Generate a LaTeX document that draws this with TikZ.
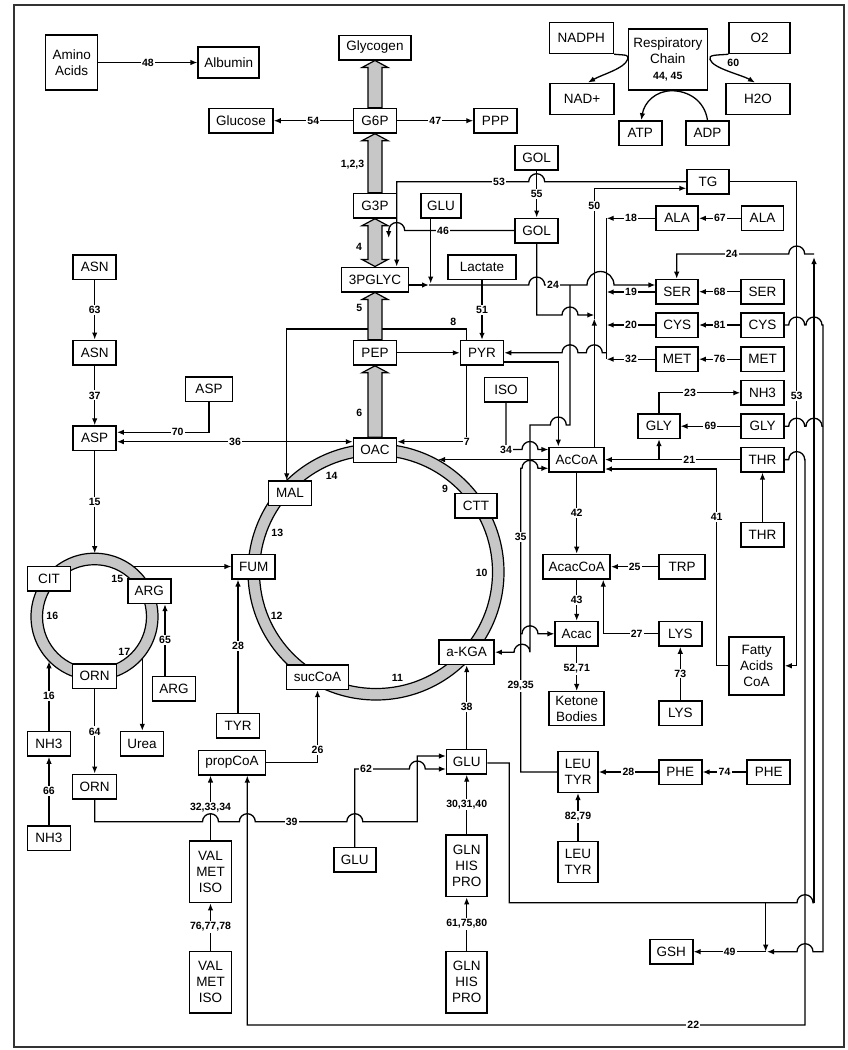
\documentclass[tikz,border=0pt]{standalone}
\usepackage{fontspec}
\setmainfont{Liberation Sans}
\usetikzlibrary{arrows.meta,calc}
\definecolor{ringgray}{gray}{0.78}

\begin{document}
\begin{tikzpicture}[x=1pt,y=-1pt,>={Latex[length=7pt,width=5.5pt]},line width=1.3pt]
\tikzstyle{box}=[draw,fill=white,line width=1.5pt,minimum width=43pt,minimum height=24.5pt,inner sep=2pt,align=center,font=\fontsize{13.5}{16}\selectfont]
\tikzstyle{lbl}=[fill=white,inner sep=1.2pt,font=\fontsize{10.5}{12}\selectfont\bfseries]
\tikzstyle{rlbl}=[inner sep=0pt,font=\fontsize{10.5}{12}\selectfont\bfseries]
\tikzstyle{fat}=[draw,fill=ringgray,line width=1.2pt,line join=miter]
\useasboundingbox (0,0) rectangle (847,1050);
\draw[line width=1.6pt,black!80] (14,5) rectangle (844,1047);

% cycles
\draw[fill=ringgray,even odd rule,line width=1.2pt] (376,572) circle[radius=128pt] (376,572) circle[radius=116.5pt];
\draw[fill=ringgray,even odd rule,line width=1.2pt] (94.5,616.7) circle[radius=63.5pt] (94.5,616.7) circle[radius=52pt];

% top
\node[box,minimum width=52pt,minimum height=55pt] (amino) at (71.7,62.5) {Amino\\Acids};
\node[box,minimum width=61pt,minimum height=31pt] (albumin) at (228.7,62.5) {Albumin};
\node[box,minimum width=64pt] (glucose) at (241,120.7) {Glucose};
\node[box,minimum width=72pt] (glycogen) at (375,47.5) {Glycogen};
\node[box] (G6P) at (375,120.7) {G6P};
\node[box] (PPP) at (495.5,120.7) {PPP};
\node[box,minimum width=64pt,minimum height=31pt] (NADPH) at (581.3,38) {NADPH};
\node[box,minimum width=79pt,minimum height=61pt] (resp) at (667.8,59.5) {Respiratory\\Chain\\{\fontsize{10.5}{12}\selectfont\bfseries 44, 45}};
\node[box,minimum width=61pt,minimum height=31pt] (O2) at (759.7,38) {O2};
\node[box,minimum width=64pt,minimum height=31pt] (NADp) at (582,98.8) {NAD+};
\node[box,minimum width=64pt,minimum height=31pt] (H2O) at (758,98.8) {H2O};
\node[box] (ATP) at (640.3,133.2) {ATP};
\node[box] (ADP) at (707.5,133.2) {ADP};

% glycolysis column
\node[box] (G3P) at (375,205.7) {G3P};
\node[box,minimum width=40pt] (GLUa) at (441,205.5) {GLU};
\node[box] (GOLa) at (536.7,157.5) {GOL};
\node[box] (GOLb) at (536.7,230.5) {GOL};
\node[box,minimum width=42pt] (TG) at (708,181.7) {TG};
\node[box,minimum width=67pt] (pglyc) at (375,279.5) {3PGLYC};
\node[box,minimum width=68pt] (lactate) at (482,267.2) {Lactate};
\node[box] (PEP) at (375,352.8) {PEP};
\node[box] (PYR) at (482,352.8) {PYR};
\node[box] (ISO) at (506,389.5) {ISO};
\node[box] (OAC) at (375,450.3) {OAC};
\node[box] (MAL) at (290,493.3) {MAL};
\node[box,minimum width=42pt] (CTT) at (476,505.7) {CTT};
\node[box,minimum width=55pt] (AcCoA) at (576.7,459.6) {AcCoA};
\node[box] (FUM) at (253.7,566.5) {FUM};
\node[box,minimum width=62pt] (sucCoA) at (317.5,677.2) {sucCoA};
\node[box,minimum width=55pt] (aKGA) at (466.7,652.2) {a-KGA};

% amino acids right
\node[box,minimum width=42pt] (ALAa) at (677.2,218.3) {ALA};
\node[box,minimum width=42pt] (ALAb) at (762.5,218.3) {ALA};
\node[box,minimum width=42pt] (SERa) at (677.2,291.7) {SER};
\node[box] (SERb) at (762.5,291.7) {SER};
\node[box,minimum width=42pt] (CYSa) at (677.2,325) {CYS};
\node[box] (CYSb) at (762.5,325) {CYS};
\node[box,minimum width=42pt] (METa) at (677.2,359.2) {MET};
\node[box] (METb) at (762.5,359.2) {MET};
\node[box] (NH3r) at (762.5,392.8) {NH3};
\node[box,minimum width=42pt] (GLYa) at (658.8,426.2) {GLY};
\node[box] (GLYb) at (762.5,426.2) {GLY};
\node[box] (THRa) at (762.5,459.6) {THR};
\node[box] (THRb) at (762.5,534.7) {THR};
\node[box,minimum width=67pt] (AcacCoA) at (576.7,566.7) {AcacCoA};
\node[box,minimum width=46pt] (TRP) at (682,566.7) {TRP};
\node[box] (Acac) at (576.7,633.8) {Acac};
\node[box] (LYSa) at (680.3,633.8) {LYS};
\node[box] (LYSb) at (680.3,713.3) {LYS};
\node[box,minimum width=55pt,minimum height=34pt] (KB) at (576.7,708.7) {Ketone\\Bodies};
\node[box,minimum width=55pt,minimum height=58pt] (FA) at (756.5,665.8) {Fatty\\Acids\\CoA};
\node[box,minimum width=40pt,minimum height=40.6pt] (LEUa) at (578,772) {LEU\\TYR};
\node[box,minimum width=40pt,minimum height=40.6pt] (LEUb) at (578,862) {LEU\\TYR};
\node[box] (PHEa) at (680.3,772) {PHE};
\node[box] (PHEb) at (768.7,772) {PHE};
\node[box] (GSH) at (671.3,951.7) {GSH};

% left and bottom
\node[box] (ASNa) at (94.7,267.2) {ASN};
\node[box] (ASNb) at (94.7,352.5) {ASN};
\node[box] (ASPa) at (94.7,438.3) {ASP};
\node[box,minimum width=47pt] (ASPb) at (209,389.2) {ASP};
\node[box] (CIT) at (49,578.7) {CIT};
\node[box] (ARGa) at (149.3,591.2) {ARG};
\node[box] (ARGb) at (174,688.8) {ARG};
\node[box,minimum width=44pt] (ORNa) at (94.7,676.3) {ORN};
\node[box,minimum width=44pt] (ORNb) at (94.7,786.5) {ORN};
\node[box] (urea) at (142,743.8) {Urea};
\node[box] (NH3a) at (49,743.8) {NH3};
\node[box] (NH3b) at (49,838.3) {NH3};
\node[box] (TYR) at (238,725.5) {TYR};
\node[box,minimum width=67pt] (propCoA) at (232,762.5) {propCoA};
\node[box,minimum width=42pt,minimum height=61.7pt] (VALa) at (210.5,871.8) {VAL\\MET\\ISO};
\node[box,minimum width=42pt,minimum height=61.7pt] (VALb) at (210.5,982.2) {VAL\\MET\\ISO};
\node[box,minimum width=40pt] (GLUb) at (466.7,761.7) {GLU};
\node[box,minimum width=42pt] (GLUc) at (354.8,859.8) {GLU};
\node[box,minimum width=41pt,minimum height=61.7pt] (GLNa) at (466.7,865.8) {GLN\\HIS\\PRO};
\node[box,minimum width=41pt,minimum height=61.7pt] (GLNb) at (466.7,982.2) {GLN\\HIS\\PRO};

% top connectors
\draw[->] (amino) -- node[lbl] (n48) {48} (albumin);
\draw[->] (G6P) -- node[lbl] (n54) {54} (glucose);
\draw[->] (G6P) -- node[lbl] (n47) {47} (PPP);
\draw[->] (NADPH.south east) .. controls +(12,1) and +(2,-5) .. (resp.west) .. controls +(-3,9) and +(14,-8) .. ([xshift=6pt]NADp.north);
\draw[->] (O2.south west) .. controls +(-12,1) and +(-2,-5) .. ([xshift=2pt]resp.east) .. controls +(3,9) and +(-14,-8) .. ([xshift=-3pt]H2O.north);
\draw[->] (ADP.north) .. controls +(-3,-20) and +(16,0) .. ([xshift=4pt]resp.south) .. controls +(-16,0) and +(3,-18) .. ([xshift=1pt]ATP.north);
\node[rlbl] (n60) at (733.3,63.3) {60};

% glycerol, TG
\draw[->] (TG.west) -- (544.7,181.7) arc[start angle=0,end angle=180,radius=8pt] -- (499,181.7) node[lbl] (n53a) {53} -- (396.7,181.7) -- (396.7,0 |- pglyc.north);
\draw[->] (GOLa) -- node[lbl] (n55) {55} (GOLb);
\draw[->] (GOLb.west) -- (443,230.5) node[lbl] (n46) {46} -- (404.7,230.5) arc[start angle=0,end angle=180,radius=8pt] -- (388.7,238);
\draw[->] (430.7,0 |- GLUa.south) -- (430.7,283.5);
\draw[->] (pglyc.east |- 0,285) -- (429,285);
\draw[->] (429,285) -- (528.7,285) arc[start angle=180,end angle=0,radius=8pt] -- (553,285) node[lbl] (n24a) {24} -- (587,285) arc[start angle=180,end angle=0,radius=13.5pt] -- (SERa.west |- 0,285);
\draw[->] (570,285) -- (570,425) -- (566.3,425) arc[start angle=0,end angle=180,radius=8pt] -- (530,425) -- (530,652.2) arc[start angle=0,end angle=180,radius=8pt] -- (aKGA.east);
\draw[->] (GOLb.south) -- (536.7,315) -- (562,315) arc[start angle=180,end angle=0,radius=8pt] -- (594.3,315);
\draw[->] (594.3,0 |- AcCoA.north) -- (594.3,318.5);
\draw[->] (594.3,318.5) -- (594.3,205.7) node[lbl] (n50) {50} -- (594.3,188.3) -- (TG.west |- 0,188.3);

% amino acids into pyruvate
\draw[->] (ALAb) -- node[lbl] (n67) {67} (ALAa);
\draw[->] (ALAa) -- node[lbl] (n18) {18} (606.7,218.3);
\draw[->] (SERb) -- node[lbl] (n68) {68} (SERa);
\draw[->] (SERa.west |- 0,292) -- node[lbl] (n19) {19} (606.7,292);
\draw[->] (CYSb) -- node[lbl] (n81) {81} (CYSa);
\draw[->] (CYSa) -- node[lbl] (n20) {20} (606.7,325);
\draw[->] (METb) -- node[lbl] (n76) {76} (METa);
\draw[->] (METa) -- node[lbl] (n32) {32} (606.7,359.2);
\draw (606.7,218.3) -- (606.7,359.2);
\draw[->] (606.7,352.8) -- (602.3,352.8) arc[start angle=0,end angle=180,radius=8pt] -- (578,352.8) arc[start angle=0,end angle=180,radius=8pt] -- (PYR.east);

% pyruvate, TCA entries
\draw[->] (PEP) -- (PYR);
\draw[->] (lactate) -- node[lbl] (n51) {51} (PYR);
\draw[->] (PYR.east |- 0,362) -- (558.3,362) -- (558.3,0 |- AcCoA.north);
\draw[->] (466.7,0 |- PYR.north) -- (466.7,329) -- (286.7,329) -- (286.7,0 |- MAL.north);
\node[rlbl] (n8) at (453.3,321.5) {8};
\draw[->] (466.7,0 |- PYR.south) -- (466.7,441.7) node[lbl] (n7) {7} -- (OAC.east |- 0,441.7);
\draw[->] (ISO.south) -- (506,449.5) node[lbl] (n34) {34} -- (522,449.5) arc[start angle=180,end angle=0,radius=8pt] -- (AcCoA.west |- 0,449.5);
\draw[->] (AcCoA.west) -- (438,459.6);
\draw[->] (LEUa.west) -- (520.7,772) -- (520.7,686) node[lbl] (n2935) {29,35} -- (520.7,537.3) node[lbl] (n35) {35} -- (520.7,468.3) -- (522,468.3) arc[start angle=180,end angle=0,radius=8pt] -- (AcCoA.west |- 0,468.3);
\draw[->] (520.7,633.8) -- (522,633.8) arc[start angle=180,end angle=0,radius=8pt] -- (Acac.west);

% ketone bodies
\draw[->] (AcCoA) -- node[lbl] (n42) {42} (AcacCoA);
\draw[->] (AcacCoA) -- node[lbl] (n43) {43} (Acac);
\draw[->] (Acac) -- node[lbl] (n5271) {52,71} (KB);
\draw[->] (TRP) -- node[lbl] (n25) {25} (AcacCoA);
\draw[->] (LYSa.west) -- (636.7,633.8) node[lbl] (n27) {27} -- (603.3,633.8) -- (603.3,0 |- AcacCoA.south);
\draw[->] (LYSb) -- node[lbl] (n73) {73} (LYSa);
\draw[->] (FA.west) -- (716.7,665.8) -- (716.7,516.7) node[lbl] (n41) {41} -- (716.7,469) -- (AcCoA.east |- 0,469);
\draw[->] (THRa.west) -- (689.3,459.6) node[lbl] (n21) {21} -- (AcCoA.east |- 0,459.6);
\draw[->] (659,459.6) -- (659,0 |- GLYa.south);
\draw[->] (659,0 |- GLYa.north) -- (659,392.8) -- (690,392.8) node[lbl] (n23) {23} -- (NH3r.west);
\draw[->] (GLYb) -- node[lbl] (n69) {69} (GLYa);
\draw[->] (THRb) -- (THRa);

% long lines on the right
\draw[->] (TG.east) -- (796.7,181.7) -- (796.7,395.7) node[lbl] (n53b) {53} -- (796.7,665.8) -- (FA.east);
\draw[->] (THRa.east) -- (788.7,459.6) arc[start angle=180,end angle=0,radius=8pt] -- (805,459.6) -- (805,1025) -- (693.3,1025) node[lbl] (n22) {22} -- (247.3,1025) -- (247.3,0 |- propCoA.south);
\draw[->] (CYSb.east) -- (788.7,325) arc[start angle=180,end angle=0,radius=8pt] -- (806,325) arc[start angle=180,end angle=0,radius=8pt] -- (823,325) -- (823,951.7) -- (813,951.7) arc[start angle=0,end angle=180,radius=8pt] -- (767,951.7);
\draw (GLYb.east) -- (788.7,426.2) arc[start angle=180,end angle=0,radius=8pt] -- (806,426.2) arc[start angle=180,end angle=0,radius=8pt] -- (823,426.2);
\draw (GLUb.east |- 0,763) -- (509.3,763) -- (509.3,902.7) -- (797,902.7) arc[start angle=180,end angle=0,radius=8pt] -- (814,902.7);
\draw[->] (814,902.7) -- (814,257);
\draw[->] (765.7,902.7) -- (765.7,951.7);
\draw[->] (765.7,951.7) -- node[lbl] (n49) {49} (GSH);
\draw[->] (814,254) -- (804.7,254) arc[start angle=0,end angle=180,radius=8pt] -- (731.7,254) node[lbl] (n24b) {24} -- (676.7,254) -- (676.7,0 |- SERa.north);

% urea cycle
\draw[->] (ASNa) -- node[lbl] (n63) {63} (ASNb);
\draw[->] (ASNb) -- node[lbl] (n37) {37} (ASPa);
\draw[->] (ASPb.south) -- (209,432.3) -- (177.7,432.3) node[lbl] (n70) {70} -- (ASPa.east |- 0,432.3);
\draw[<->] (ASPa.east |- 0,441.7) -- (235,441.7) node[lbl] (n36) {36} -- (OAC.west |- 0,441.7);
\draw[->] (ASPa.south) -- node[lbl] (n15) {15} (94.7,553.2);
\draw[->] (133.6,566.5) -- (FUM.west);
\draw[->] (142.3,658.5) -- (142.3,0 |- urea.north);
\draw[->] (NH3a.north) -- node[lbl] (n16) {16} (49,661.3);
\draw[->] (165,0 |- ARGb.north) -- node[lbl] (n65) {65} (165,0 |- ARGa.south);
\draw[->] (ORNa) -- node[lbl] (n64) {64} (ORNb);
\draw[->] (NH3b) -- node[lbl] (n66) {66} (NH3a);

% bottom
\draw[->] (TYR.north) -- node[lbl] (n28a) {28} (TYR.north |- FUM.south);
\draw[->] (propCoA.east) -- (317.5,762.5) -- (317.5,750) node[lbl] (n26) {26} -- (sucCoA.south);
\draw[->] (VALb) -- node[lbl] (n767778) {76,77,78} (VALa);
\draw[->] (VALa.north) -- (210.5,807.7) node[lbl] (n323334) {32,33,34} -- (210.5,0 |- propCoA.south);
\draw[->] (ORNb.south) -- (94.7,821.7) -- (202.5,821.7) arc[start angle=180,end angle=0,radius=8pt] -- (239.3,821.7) arc[start angle=180,end angle=0,radius=8pt] -- (291.7,821.7) node[lbl] (n39) {39} -- (346.8,821.7) arc[start angle=180,end angle=0,radius=8pt] -- (417.3,821.7) -- (417.3,756) -- (GLUb.west |- 0,756);
\draw[->] (GLUc.north) -- (354.8,769) -- (366,769) node[lbl] (n62) {62} -- (409.3,769) arc[start angle=180,end angle=0,radius=8pt] -- (GLUb.west |- 0,769);
\draw[->] (GLUb) -- node[lbl] (n38) {38} (aKGA);
\draw[->] (GLNa) -- node[lbl] (n303140) {30,31,40} (GLUb);
\draw[->] (GLNb) -- node[lbl] (n617580) {61,75,80} (GLNa);
\draw[->] (LEUb) -- node[lbl] (n8279) {82,79} (LEUa);
\draw[->] (PHEa) -- node[lbl] (n28b) {28} (LEUa);
\draw[->] (PHEb) -- node[lbl] (n74) {74} (PHEa);

% cycle labels
\foreach \t/\x/\y in {14/331.7/475.7, 9/445/489.3, 13/277.3/533.3, 12/276.7/616, 10/481.7/573.3, 11/397.3/678.3, 15/117.3/579.3, 16/52.3/615.7, 17/124.3/652.3}
  \node[rlbl] (ring\t) at (\x,\y) {\t};

% gluconeogenesis column
\foreach \a/\b in {G6P/glycogen,G3P/G6P,PEP/pglyc,OAC/PEP}
  \draw[fat] ($(\a.north)+(-7,0)$) -- ($(\b.south)+(-7,7)$) -- ($(\b.south)+(-13,7)$) -- (\b.south) -- ($(\b.south)+(13,7)$) -- ($(\b.south)+(7,7)$) -- ($(\a.north)+(7,0)$) -- cycle;
\draw[fat] ($(G3P.south)+(-7,7)$) -- ($(G3P.south)+(-13,7)$) -- (G3P.south) -- ($(G3P.south)+(13,7)$) -- ($(G3P.south)+(7,7)$) -- ($(pglyc.north)+(7,-7)$) -- ($(pglyc.north)+(13,-7)$) -- (pglyc.north) -- ($(pglyc.north)+(-13,-7)$) -- ($(pglyc.north)+(-7,-7)$) -- cycle;
\node[rlbl] (fat123) at (352.5,165) {1,2,3};
\node[rlbl] (fat4) at (359,247.3) {4};
\node[rlbl] (fat5) at (359.3,308.3) {5};
\node[rlbl] (fat6) at (359.3,413.3) {6};
\end{tikzpicture}
\end{document}
